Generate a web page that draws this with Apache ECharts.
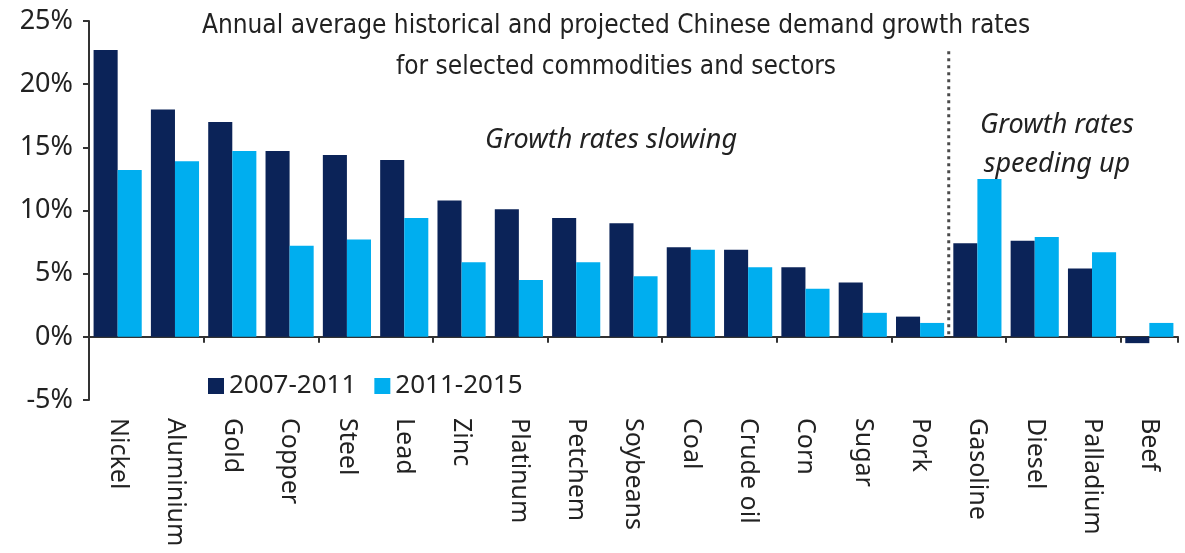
<!DOCTYPE html>
<html>
<head>
<meta charset="utf-8">
<script src="https://cdn.jsdelivr.net/npm/echarts@6/dist/echarts.min.js"></script>
<style>
  html, body { margin: 0; padding: 0; background: #fff; }
  #chart { width: 1185px; height: 553px; }
</style>
</head>
<body>
<div id="chart"></div>
<script>
const categories = ['Nickel', 'Aluminium', 'Gold', 'Copper', 'Steel', 'Lead', 'Zinc', 'Platinum', 'Petchem',
  'Soybeans', 'Coal', 'Crude oil', 'Corn', 'Sugar', 'Pork', 'Gasoline', 'Diesel', 'Palladium', 'Beef']
const hist = [22.7, 18.0, 17.0, 14.7, 14.4, 14.0, 10.8, 10.1, 9.4, 9.0, 7.1, 6.9, 5.5, 4.3, 1.6, 7.4, 7.6, 5.4, -0.5]
const proj = [13.2, 13.9, 14.7, 7.2, 7.7, 9.4, 5.9, 4.5, 5.9, 4.8, 6.9, 5.5, 3.8, 1.9, 1.1, 12.5, 7.9, 6.7, 1.1]
const yTicks = {min: -5, max: 25, interval: 5}
// dotted divider between "slowing" and "speeding up" groups (boundary before Gasoline)
const divider = [[15, 22.6], [15, 0]]

const font = '"Noto Sans", "Open Sans", sans-serif'
const darkBlue = '#0b2358'
const lightBlue = '#00aeef'

const chart = echarts.init(document.getElementById('chart'))

chart.setOption({
  backgroundColor: '#fff',
  animation: false,
  title: [{
    text: 'Annual average historical and projected Chinese demand growth rates\nfor selected commodities and sectors',
    left: 611,
    top: 1,
    textAlign: 'center',
    textStyle: {
      fontFamily: '"DejaVu Sans Condensed", "Liberation Sans Narrow", sans-serif',
      fontWeight: 'normal',
      fontSize: 26,
      lineHeight: 41,
      color: '#222',
    },
  }, {
    text: 'Growth rates slowing',
    left: 606,
    top: 122,
    textAlign: 'center',
    textStyle: {fontFamily: font, fontStyle: 'italic', fontWeight: 'normal', fontSize: 27, color: '#222'},
  }, {
    text: 'Growth rates\nspeeding up',
    left: 1052,
    top: 101,
    textAlign: 'center',
    textStyle: {fontFamily: font, fontStyle: 'italic', fontWeight: 'normal', fontSize: 27, lineHeight: 39, color: '#222'},
  }],
  legend: {
    left: 203,
    top: 368,
    icon: 'rect',
    itemWidth: 16,
    itemHeight: 16,
    itemGap: 18,
    textStyle: {fontFamily: font, fontSize: 26, color: '#222'},
    data: ['2007-2011', '2011-2015'],
  },
  grid: {
    left: 89,
    right: 7,
    top: 21,
    bottom: 153,
  },
  xAxis: [{
    type: 'category',
    data: categories,
    axisLine: {onZero: true, lineStyle: {color: '#333', width: 2}},
    axisTick: {show: true, length: 6, lineStyle: {color: '#333', width: 2}},
    axisLabel: {show: false},
  }, {
    type: 'category',
    data: categories,
    position: 'bottom',
    axisLine: {show: false, onZero: false},
    axisTick: {show: false},
    axisLabel: {
      rotate: -90,
      margin: 18,
      fontFamily: font,
      fontSize: 25,
      color: '#222',
    },
  }, {
    type: 'value',
    show: false,
    min: 0,
    max: categories.length,
  }],
  yAxis: {
    type: 'value',
    min: yTicks.min,
    max: yTicks.max,
    interval: yTicks.interval,
    axisLine: {show: true, lineStyle: {color: '#333', width: 2}},
    axisTick: {show: true, length: 6, lineStyle: {color: '#333', width: 2}},
    splitLine: {show: false},
    axisLabel: {
      formatter: '{value}%',
      margin: 16,
      fontFamily: font,
      fontSize: 27,
      color: '#222',
    },
  },
  series: [{
    name: '2007-2011',
    type: 'bar',
    xAxisIndex: 0,
    data: hist,
    barGap: '0%',
    barCategoryGap: '16%',
    itemStyle: {color: darkBlue},
  }, {
    name: '2011-2015',
    type: 'bar',
    xAxisIndex: 0,
    data: proj,
    barGap: '0%',
    barCategoryGap: '16%',
    itemStyle: {color: lightBlue},
  }, {
    name: 'divider',
    type: 'line',
    xAxisIndex: 2,
    data: divider,
    silent: true,
    symbol: 'none',
    lineStyle: {type: [3, 4], color: '#4a4a4a', width: 3},
    z: 5,
  }],
})
</script>
</body>
</html>
